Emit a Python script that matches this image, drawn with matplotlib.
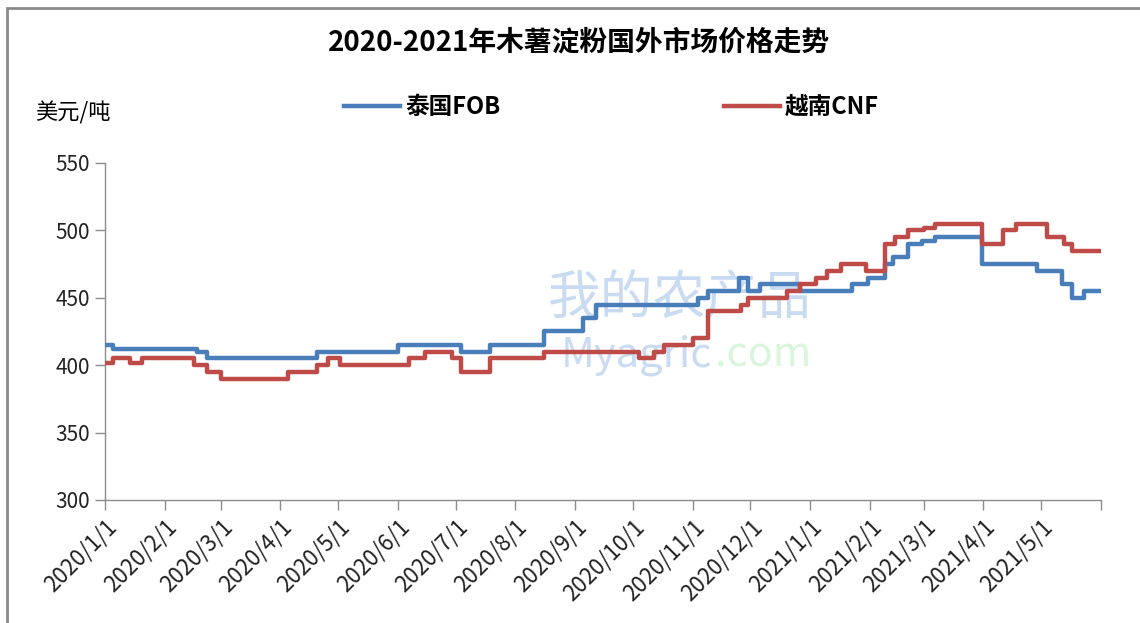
import pandas as pd
import matplotlib
matplotlib.use("Agg")
import matplotlib.pyplot as plt
from matplotlib.patches import Rectangle

plt.rcParams["font.family"] = ["Noto Sans CJK SC", "DejaVu Sans"]

# price change points (date the new price starts), USD/ton
thai_dates = ["2020-01-01", "2020-01-05", "2020-02-18", "2020-02-23", "2020-04-20",
              "2020-06-01", "2020-07-04", "2020-07-19", "2020-08-16", "2020-09-05",
              "2020-09-12", "2020-11-04", "2020-11-09", "2020-11-25", "2020-11-30",
              "2020-12-06", "2020-12-27", "2021-01-23", "2021-01-31", "2021-02-09",
              "2021-02-13", "2021-02-21", "2021-02-28", "2021-03-07", "2021-03-31",
              "2021-04-29", "2021-05-12", "2021-05-17", "2021-05-23", "2021-05-31"]
thai_fob = [415, 412, 410, 405, 410,
            415, 410, 415, 425, 435,
            445, 450, 455, 465, 455,
            460, 455, 460, 465, 475,
            480, 490, 492, 495, 475,
            470, 460, 450, 455, 455]

viet_dates = ["2020-01-01", "2020-01-05", "2020-01-14", "2020-01-20", "2020-02-16",
              "2020-02-23", "2020-03-01", "2020-04-05", "2020-04-20", "2020-04-26",
              "2020-05-02", "2020-06-07", "2020-06-15", "2020-06-29", "2020-07-04",
              "2020-07-19", "2020-08-16", "2020-10-04", "2020-10-12", "2020-10-17",
              "2020-11-01", "2020-11-09", "2020-11-26", "2020-11-30", "2020-12-20",
              "2020-12-27", "2021-01-04", "2021-01-10", "2021-01-17", "2021-01-30",
              "2021-02-09", "2021-02-14", "2021-02-21", "2021-03-01", "2021-03-07",
              "2021-03-31", "2021-04-11", "2021-04-18", "2021-05-04", "2021-05-13",
              "2021-05-17", "2021-05-31"]
viet_cnf = [402, 405, 402, 405, 400,
            395, 390, 395, 400, 405,
            400, 405, 410, 405, 395,
            405, 410, 405, 410, 415,
            420, 440, 445, 450, 455,
            460, 465, 470, 475, 470,
            490, 495, 500, 502, 505,
            490, 500, 505, 495, 490,
            485, 485]

tick_months = pd.date_range("2020-01-01", "2021-06-01", freq="MS")
tick_labels = [f"{d.year}/{d.month}/1" for d in tick_months[:-1]] + [""]

fig = plt.figure(figsize=(11.4, 6.23), dpi=100)
ax = fig.add_axes([105 / 1140, 1 - 500 / 623, (1101 - 105) / 1140, (500 - 163) / 623])

blue = "#4a7ebb"
red = "#be4b48"

# faint watermark
ax.text(0.577, 0.60, "我的农产品", transform=ax.transAxes, fontsize=38,
        color="#c9dbf2", ha="center", va="center", zorder=0, fontweight="medium")
ax.text(0.61, 0.43, "Myagric", transform=ax.transAxes, fontsize=30,
        color="#c9dbf2", ha="right", va="center", zorder=0)
ax.text(0.612, 0.43, ".com", transform=ax.transAxes, fontsize=30,
        color="#d9f5dc", ha="left", va="center", zorder=0)

ax.plot(pd.to_datetime(thai_dates), thai_fob, drawstyle="steps-post",
        color=blue, lw=3.2, label="泰国FOB", zorder=3)
ax.plot(pd.to_datetime(viet_dates), viet_cnf, drawstyle="steps-post",
        color=red, lw=3.2, label="越南CNF", zorder=3)

ax.set_xlim(pd.Timestamp("2020-01-01"), pd.Timestamp("2021-06-01"))
ax.set_ylim(300, 550)
ax.set_yticks([300, 350, 400, 450, 500, 550])
ax.set_xticks(tick_months)
ax.set_xticklabels(tick_labels, rotation=45, ha="right", va="top",
                   rotation_mode="anchor", fontsize=16)

for s in ["top", "right"]:
    ax.spines[s].set_visible(False)
for s in ["left", "bottom"]:
    ax.spines[s].set_color("#8c8c8c")
    ax.spines[s].set_linewidth(1)
ax.tick_params(axis="both", colors="#8c8c8c", length=7, width=1,
               labelcolor="#222222")
ax.tick_params(axis="y", labelsize=15)
ax.tick_params(axis="x", pad=4)

fig.text(0.508, 1 - 42 / 623, "2020-2021年木薯淀粉国外市场价格走势",
         ha="center", va="center", fontsize=20, fontweight="bold")
fig.text(35 / 1140, 1 - 113 / 623, "美元/吨", ha="left", va="center", fontsize=16)

h1, h2 = ax.get_lines()
for h, x0 in [(h1, 332), (h2, 712)]:
    fig.legend([h], [h.get_label()], loc="center left",
               bbox_to_anchor=(x0 / 1140, 1 - 107 / 623), frameon=False,
               handlelength=2.4, handletextpad=0.2, borderpad=0,
               prop={"size": 17, "weight": "bold"})

# outer frame like the original sheet
fig.add_artist(Rectangle((7 / 1140, -0.1), 1.2, 1 - 8 / 623 + 0.1,
                         transform=fig.transFigure, fill=False,
                         edgecolor="#8a8a8a", lw=2))

fig.savefig("out.png", dpi=100)
